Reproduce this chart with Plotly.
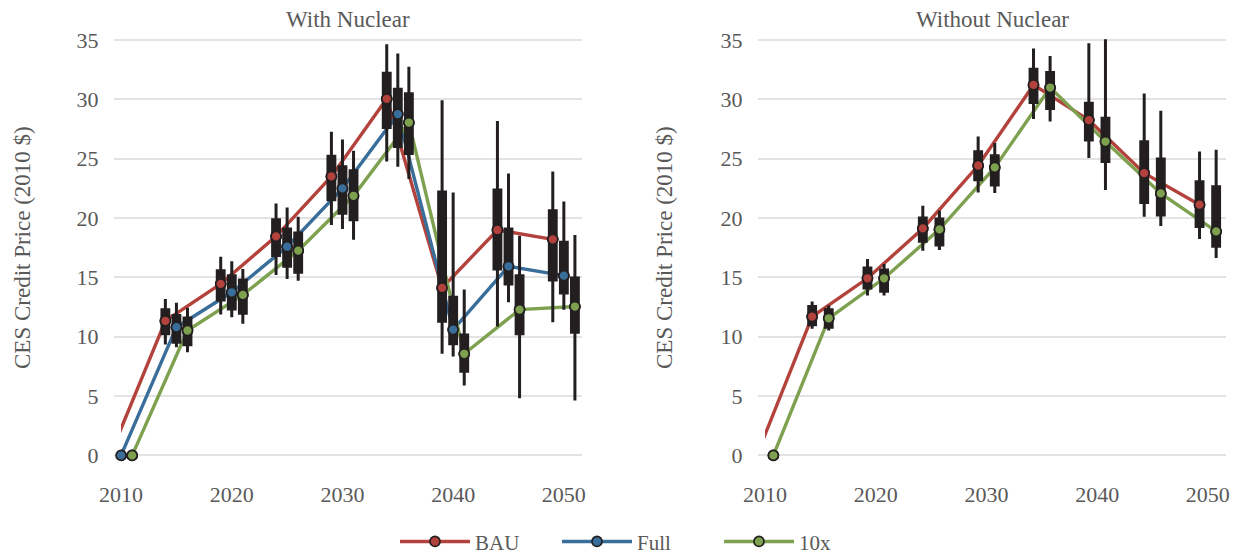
import plotly.graph_objects as go

# ---------------- data ----------------
years = [2010, 2015, 2020, 2025, 2030, 2035, 2040, 2045, 2050]
box_years = [2015, 2020, 2025, 2030, 2035, 2040, 2045, 2050]
x_ticks = [2010, 2020, 2030, 2040, 2050]
y_ticks = [0, 5, 10, 15, 20, 25, 30, 35]

series = ["BAU", "Full", "10x"]
panel_titles = ["With Nuclear", "Without Nuclear"]
y_title = "CES Credit Price (2010 $)"

# With Nuclear
wn_bau_mean = [0, 11.33, 14.45, 18.45, 23.5, 30.04, 14.11, 18.99, 18.2]
wn_bau_lo = [9.34, 11.86, 15.2, 19.41, 24.76, 8.56, 10.85, 11.22]
wn_bau_q1 = [10.24, 13.1, 16.83, 21.54, 27.62, 11.3, 15.7, 14.78]
wn_bau_q3 = [12.26, 15.56, 19.86, 25.2, 32.2, 22.18, 22.35, 20.61]
wn_bau_hi = [13.18, 16.74, 21.23, 27.26, 34.64, 29.92, 28.18, 23.92]

wn_full_mean = [0, 10.8, 13.74, 17.58, 22.49, 28.75, 10.6, 15.93, 15.14]
wn_full_lo = [9.11, 11.64, 14.87, 19.07, 24.31, 8.33, 12.9, 12.26]
wn_full_q1 = [9.53, 12.34, 15.93, 20.39, 26.02, 9.4, 14.44, 13.69]
wn_full_q3 = [11.78, 15.14, 19.07, 24.31, 30.85, 13.32, 19.07, 17.95]
wn_full_hi = [12.85, 16.35, 20.89, 26.61, 33.85, 22.15, 23.75, 21.39]

wn_10x_mean = [0, 10.52, 13.52, 17.25, 21.87, 28.04, 8.56, 12.28, 12.54]
wn_10x_lo = [8.69, 11.08, 14.72, 18.17, 23.28, 5.89, 4.82, 4.63]
wn_10x_q1 = [9.31, 11.97, 15.42, 19.86, 25.43, 7.09, 10.24, 10.38]
wn_10x_q3 = [11.58, 14.78, 18.74, 23.98, 30.46, 10.15, 15.14, 14.95]
wn_10x_hi = [12.43, 15.71, 20.1, 25.66, 32.75, 13.97, 18.51, 18.57]

# Without Nuclear
won_bau_mean = [0, 11.69, 14.92, 19.12, 24.42, 31.21, 28.24, 23.78, 21.12]
won_bau_lo = [10.66, 13.46, 17.25, 22.15, 28.33, 25.05, 20.11, 18.23]
won_bau_q1 = [11.0, 14.11, 18.03, 23.22, 29.73, 26.56, 21.31, 19.29]
won_bau_q3 = [12.54, 15.79, 20.0, 25.58, 32.53, 29.67, 26.42, 23.05]
won_bau_hi = [12.96, 16.55, 21.03, 26.86, 34.27, 34.72, 30.48, 25.6]

won_10x_mean = [0, 11.55, 14.92, 19.04, 24.26, 30.99, 26.44, 22.07, 18.87]
won_10x_lo = [10.52, 13.46, 17.31, 22.1, 28.13, 22.35, 19.33, 16.63]
won_10x_q1 = [10.8, 13.82, 17.73, 22.77, 29.22, 24.76, 20.25, 17.61]
won_10x_q3 = [12.26, 15.62, 19.91, 25.24, 32.25, 28.41, 24.96, 22.63]
won_10x_hi = [12.62, 16.13, 20.61, 26.31, 33.65, 35.06, 29.03, 25.74]

# ---------------- style ----------------
COLORS = {"BAU": "#b3423c", "Full": "#3a6e9a", "10x": "#7ea150"}
BOX = "#231f20"
TEXT = "#595959"
GRID = "#e3e3e3"
FONT = "Liberation Serif"
DODGE = 3.0
X_RANGE = [2009.36, 2051.64]
LINE_X0 = 2010          # lines are clipped at the first year
Y_RANGE = [-1.4, 35.5]
MARKER_SIZE = 10

L, R, T, B = 114, 15, 34, 82
W, H = 1241, 554
pw = W - L - R
d1 = (582 - L) / pw
d2 = (758 - L) / pw
panel_domains = [[0, d1], [d2, 1]]

panels = [
    {
        "ids": (1, 2, 3),
        "data": {
            "BAU": (wn_bau_mean, wn_bau_lo, wn_bau_q1, wn_bau_q3, wn_bau_hi),
            "Full": (wn_full_mean, wn_full_lo, wn_full_q1, wn_full_q3, wn_full_hi),
            "10x": (wn_10x_mean, wn_10x_lo, wn_10x_q1, wn_10x_q3, wn_10x_hi),
        },
    },
    {
        "ids": (4, 5, 6),
        "data": {
            "BAU": (won_bau_mean, won_bau_lo, won_bau_q1, won_bau_q3, won_bau_hi),
            "10x": (won_10x_mean, won_10x_lo, won_10x_q1, won_10x_q3, won_10x_hi),
        },
    },
]


def ax(k, letter):
    return letter if k == 1 else f"{letter}{k}"


fig = go.Figure()

for pi, p in enumerate(panels):
    g, ln, bx = p["ids"]
    names = list(p["data"].keys())
    n = len(names)
    # empty trace so that the grid / tick subplot exists (drawn first)
    fig.add_trace(go.Scatter(x=[], y=[], mode="lines", showlegend=False,
                             hoverinfo="skip", xaxis=ax(g, "x"), yaxis=ax(g, "y")))
    # lines (middle subplot, clipped at 2010, drawn beneath boxes)
    for i, name in enumerate(names):
        off = (i - (n - 1) / 2) * DODGE / n
        mean = p["data"][name][0]
        fig.add_trace(go.Scatter(
            x=[y + off for y in years], y=mean, mode="lines+markers",
            name=name, legendgroup=name, showlegend=(pi == 0),
            line=dict(color=COLORS[name], width=3.4),
            marker=dict(size=MARKER_SIZE, color=COLORS[name], line=dict(color=BOX, width=1.7)),
            xaxis=ax(ln, "x"), yaxis=ax(ln, "y"), hoverinfo="skip",
        ))
    # boxes (top subplot)
    for i, name in enumerate(names):
        off = (i - (n - 1) / 2) * DODGE / n
        mean, lo, q1, q3, hi = p["data"][name]
        fig.add_trace(go.Box(
            x=[y + off for y in box_years], q1=q1, median=mean[1:], q3=q3,
            lowerfence=lo, upperfence=hi, width=0.62, whiskerwidth=0,
            fillcolor=BOX, line=dict(color=BOX, width=3), boxpoints=False,
            showlegend=False, xaxis=ax(bx, "x"), yaxis=ax(bx, "y"), hoverinfo="skip",
        ))
    # markers on top (points outside the axis limits are dropped)
    for i, name in enumerate(names):
        off = (i - (n - 1) / 2) * DODGE / n
        mean = p["data"][name][0]
        pts = [(y + off, v) for y, v in zip(years, mean) if y + off >= X_RANGE[0]]
        fig.add_trace(go.Scatter(
            x=[a for a, _ in pts], y=[b for _, b in pts], mode="markers",
            showlegend=False, legendgroup=name,
            marker=dict(size=MARKER_SIZE, color=COLORS[name], line=dict(color=BOX, width=1.7)),
            xaxis=ax(bx, "x"), yaxis=ax(bx, "y"), hoverinfo="skip",
        ))

tickfont = dict(family=FONT, size=22, color=TEXT)
layout_axes = {}
for pi, p in enumerate(panels):
    g, ln, bx = p["ids"]
    dom = panel_domains[pi]
    span = X_RANGE[1] - X_RANGE[0]
    line_dom0 = dom[0] + (LINE_X0 - X_RANGE[0]) / span * (dom[1] - dom[0])
    # grid / tick subplot
    layout_axes["xaxis" if g == 1 else f"xaxis{g}"] = dict(
        domain=dom, anchor=ax(g, "y"), range=X_RANGE, tickvals=x_ticks,
        showgrid=False, zeroline=False, showline=False, ticks="outside",
        ticklen=3, tickcolor="rgba(0,0,0,0)", tickfont=tickfont)
    layout_axes["yaxis" if g == 1 else f"yaxis{g}"] = dict(
        domain=[0, 1], anchor=ax(g, "x"), range=Y_RANGE, tickvals=y_ticks,
        showgrid=True, gridcolor=GRID, gridwidth=1.5, zeroline=False,
        showline=False, ticks="outside", ticklen=10,
        tickcolor="rgba(0,0,0,0)", tickfont=tickfont)
    # line subplot
    layout_axes[f"xaxis{ln}"] = dict(domain=[line_dom0, dom[1]], anchor=ax(ln, "y"),
                                     range=[LINE_X0, X_RANGE[1]], visible=False,
                                     showgrid=False, zeroline=False)
    layout_axes[f"yaxis{ln}"] = dict(domain=[0, 1], anchor=ax(ln, "x"), range=Y_RANGE,
                                     visible=False, showgrid=False, zeroline=False)
    # box subplot
    layout_axes[f"xaxis{bx}"] = dict(domain=dom, anchor=ax(bx, "y"), range=X_RANGE,
                                     visible=False, showgrid=False, zeroline=False)
    layout_axes[f"yaxis{bx}"] = dict(domain=[0, 1], anchor=ax(bx, "x"), range=Y_RANGE,
                                     visible=False, showgrid=False, zeroline=False)

fig.update_layout(
    width=W, height=H, margin=dict(l=L, r=R, t=T, b=B),
    paper_bgcolor="white", plot_bgcolor="rgba(0,0,0,0)", boxmode="overlay",
    legend=dict(orientation="h", xref="container", yref="container",
                x=395 / W, xanchor="left", y=0.022, yanchor="middle",
                font=dict(family=FONT, size=21, color=TEXT),
                entrywidth=77, itemwidth=70),
    font=dict(family=FONT, color=TEXT),
    **layout_axes,
)

ph = H - T - B
title_y = (H - B - 20) / ph
ann = []
for t, dom in zip(panel_titles, panel_domains):
    ann.append(dict(text=t, x=(dom[0] + dom[1]) / 2, y=title_y, xref="paper", yref="paper",
                    showarrow=False, xanchor="center", yanchor="middle",
                    font=dict(family=FONT, size=23, color=TEXT)))
for px in [22, 664]:
    ann.append(dict(text=y_title, x=(px - L) / pw, y=(H - B - 248) / ph,
                    xref="paper", yref="paper", showarrow=False, textangle=-90,
                    xanchor="center", yanchor="middle",
                    font=dict(family=FONT, size=23, color=TEXT)))
fig.update_layout(annotations=ann)

fig.write_html("out.html", config={"displayModeBar": False},
               post_script="document.body.style.margin='0';document.body.style.overflow='hidden';")
